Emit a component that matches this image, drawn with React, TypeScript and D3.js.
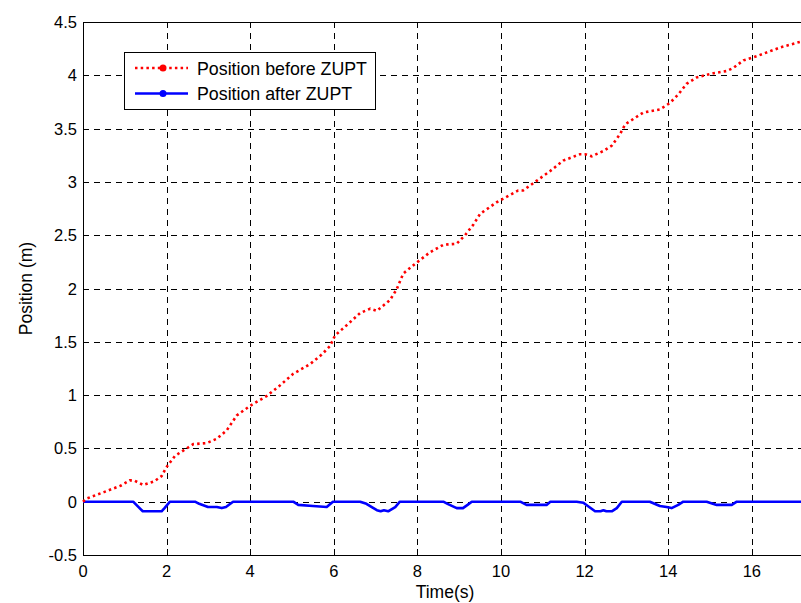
import React from "react";
import * as d3 from "d3";

const redT = [0, 0.09, 0.5, 0.9, 1.12, 1.22, 1.44, 1.7, 1.88, 1.99, 2.2, 2.64, 2.96, 3.2, 3.44, 3.68, 4.0, 4.39, 4.71, 5.03, 5.43, 5.71, 5.91, 6.03, 6.35, 6.63, 6.87, 7.03, 7.34, 7.5, 7.66, 7.94, 8.3, 8.62, 8.94, 9.14, 9.34, 9.5, 9.9, 10.41, 10.53, 10.85, 11.17, 11.49, 11.89, 12.01, 12.17, 12.45, 12.65, 12.85, 12.97, 13.4, 13.8, 14.04, 14.24, 14.44, 14.68, 15.08, 15.4, 15.56, 15.8, 16.12, 16.67, 17.3];
const redV = [0, 0.03, 0.09, 0.15, 0.2, 0.2, 0.157, 0.19, 0.24, 0.32, 0.43, 0.54, 0.55, 0.59, 0.67, 0.81, 0.9, 0.99, 1.09, 1.2, 1.29, 1.38, 1.46, 1.56, 1.67, 1.77, 1.81, 1.79, 1.89, 1.99, 2.14, 2.23, 2.34, 2.41, 2.42, 2.5, 2.6, 2.7, 2.81, 2.92, 2.92, 3.01, 3.1, 3.2, 3.26, 3.26, 3.24, 3.29, 3.34, 3.45, 3.54, 3.65, 3.68, 3.74, 3.82, 3.92, 3.98, 4.02, 4.04, 4.07, 4.14, 4.18, 4.26, 4.33];

const blueT = [0, 1.2, 1.3, 1.43, 1.88, 1.95, 2.08, 2.68, 2.78, 2.99, 3.2, 3.32, 3.42, 3.59, 5.03, 5.15, 5.5, 5.83, 5.98, 6.63, 6.78, 7.03, 7.12, 7.2, 7.3, 7.47, 7.58, 8.62, 8.72, 8.94, 9.09, 9.2, 9.3, 10.46, 10.61, 11.09, 11.18, 11.81, 11.97, 12.25, 12.38, 12.45, 12.52, 12.65, 12.77, 12.89, 13.56, 13.8, 13.96, 14.08, 14.24, 14.36, 14.92, 15.16, 15.52, 15.64, 17.3];
const blueV = [0, 0, -0.04, -0.09, -0.09, -0.06, 0, 0, -0.02, -0.05, -0.05, -0.06, -0.05, 0, 0, -0.03, -0.04, -0.05, 0, 0, -0.02, -0.08, -0.09, -0.08, -0.09, -0.05, 0, 0, -0.02, -0.06, -0.06, -0.03, 0, 0, -0.03, -0.03, 0, 0, -0.01, -0.09, -0.09, -0.08, -0.09, -0.09, -0.06, 0, 0, -0.04, -0.05, -0.06, -0.03, 0, 0, -0.03, -0.03, 0, 0];

const xTicks = [0, 2, 4, 6, 8, 10, 12, 14, 16];
const yTicks = [-0.5, 0, 0.5, 1, 1.5, 2, 2.5, 3, 3.5, 4, 4.5];

const seriesNames = ["Position before ZUPT", "Position after ZUPT"];
const xLabel = "Time(s)";
const yLabel = "Position (m)";

const W = 801, H = 603;
const L = 83, T = 22, R = 807, B = 555;
const FONT = "'Liberation Sans', Arial, Helvetica, sans-serif";

export default function App() {
  const x = d3.scaleLinear().domain([0, 17.32]).range([L, R]);
  const y = d3.scaleLinear().domain([-0.5, 4.5]).range([B, T]);
  const line = d3.line<[number, number]>().x(d => x(d[0])).y(d => y(d[1]));
  const redPts = redT.map((t, i) => [t, redV[i]] as [number, number]);
  const bluePts = blueT.map((t, i) => [t, blueV[i]] as [number, number]);
  const fmt = (v: number) => String(v);

  return (
    <svg width={W} height={H} style={{ position: "absolute", left: 0, top: 0, background: "#fff", fontFamily: FONT }}>
      <rect x={0} y={0} width={W} height={H} fill="#fff" />
      {/* grid */}
      {xTicks.filter(t => t > 0).map(t => (
        <line key={"gx" + t} x1={Math.round(x(t)) + 0.5} x2={Math.round(x(t)) + 0.5} y1={T} y2={B} stroke="#000" strokeWidth={1} strokeDasharray="6,5" />
      ))}
      {yTicks.filter(t => t > -0.5 && t < 4.5).map(t => (
        <line key={"gy" + t} x1={L} x2={R} y1={Math.round(y(t)) + 0.5} y2={Math.round(y(t)) + 0.5} stroke="#000" strokeWidth={1} strokeDasharray="6,5" />
      ))}
      {/* frame */}
      <rect x={L + 0.5} y={T + 0.5} width={R - L} height={B - T} fill="none" stroke="#000" strokeWidth={1} />
      {/* ticks */}
      {xTicks.map(t => (
        <g key={"tx" + t}>
          <line x1={Math.round(x(t)) + 0.5} x2={Math.round(x(t)) + 0.5} y1={B} y2={B - 6} stroke="#000" />
          <line x1={Math.round(x(t)) + 0.5} x2={Math.round(x(t)) + 0.5} y1={T} y2={T + 6} stroke="#000" />
          <text x={x(t)} y={576.5} fontSize={16.5} textAnchor="middle" fill="#000">{fmt(t)}</text>
        </g>
      ))}
      {yTicks.map(t => (
        <g key={"ty" + t}>
          <line x1={L} x2={L + 6} y1={Math.round(y(t)) + 0.5} y2={Math.round(y(t)) + 0.5} stroke="#000" />
          <text x={77} y={y(t) + 6} fontSize={16.5} textAnchor="end" fill="#000">{fmt(t)}</text>
        </g>
      ))}
      {/* data */}
      <path d={line(bluePts) || ""} fill="none" stroke="#0000ff" strokeWidth={2.6} strokeLinejoin="round" />
      <path d={line(redPts) || ""} fill="none" stroke="#ff0000" strokeWidth={2.6} strokeDasharray="2.5,3.2" />
      {/* labels */}
      <text x={445} y={598} fontSize={17.5} textAnchor="middle" fill="#000">{xLabel}</text>
      <text transform={`translate(32,${(T + B) / 2}) rotate(-90)`} fontSize={17.5} textAnchor="middle" fill="#000">{yLabel}</text>
      {/* legend */}
      <rect x={124.5} y={52.5} width={251} height={57} fill="#fff" stroke="#000" strokeWidth={1} />
      <line x1={135} x2={188} y1={68} y2={68} stroke="#ff0000" strokeWidth={2.6} strokeDasharray="2.5,3.2" />
      <circle cx={163} cy={68} r={3.5} fill="#ff0000" />
      <text x={197} y={74.5} fontSize={17.8} fill="#000">{seriesNames[0]}</text>
      <line x1={135} x2={188} y1={93.5} y2={93.5} stroke="#0000ff" strokeWidth={2.6} />
      <circle cx={163} cy={93.5} r={3.5} fill="#0000ff" />
      <text x={197} y={100} fontSize={17.8} fill="#000">{seriesNames[1]}</text>
    </svg>
  );
}
